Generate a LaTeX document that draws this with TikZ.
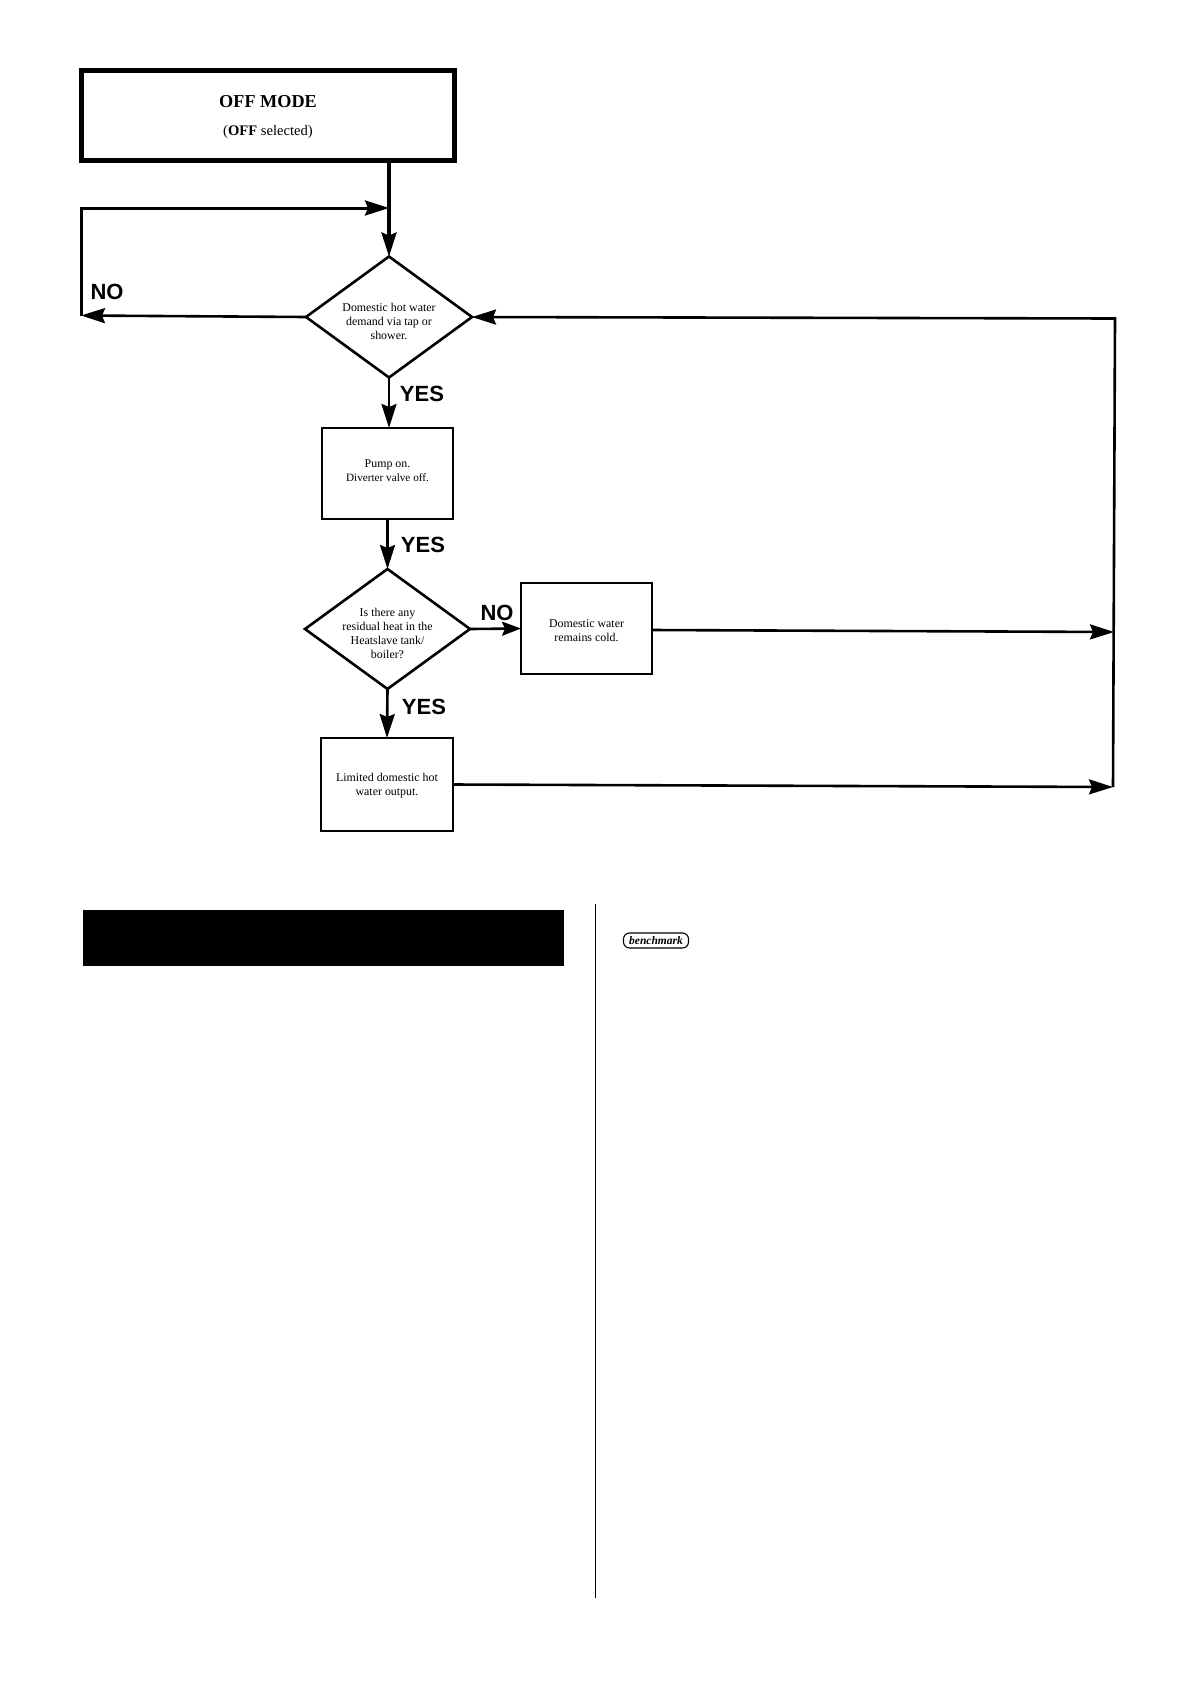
\documentclass[tikz,border=0pt]{standalone}
\usepackage{fontspec}
\setmainfont{Liberation Serif}
\newfontfamily\labelfont{Liberation Sans}
\usetikzlibrary{shapes.geometric,arrows.meta}
\newcommand\bodysize{\fontsize{11.9}{14}\selectfont}
\newcommand\droptext[2]{\raisebox{#1}[0pt][0pt]{\begin{tabular}{@{}c@{}}#2\end{tabular}}}
\tikzset{
  x=1pt,y=-1pt,
  every node/.style={outer sep=0pt,inner sep=0pt},
  box/.style={draw,line width=2.6pt,fill=white,font=\bodysize,align=center},
  decision/.style={draw,diamond,line width=2.6pt,fill=white,font=\bodysize,align=center},
  flow/.style={line width=2.6pt,-{Stealth[length=24pt,width=15pt,inset=3pt]}},
  shortflow/.style={line width=2.6pt,-{Stealth[length=19pt,width=14pt,inset=3pt]}},
  tag/.style={font=\labelfont\bfseries\fontsize{22}{24}\selectfont,anchor=center},
}
\begin{document}
\begin{tikzpicture}
\useasboundingbox (0,0) rectangle (1190,1684);
\fill[white] (0,0) rectangle (1190,1684);

% flowchart nodes
\node[draw,line width=5pt,minimum width=373pt,minimum height=90pt] (off) at (268,115.5) {};
\node[font=\bfseries\fontsize{18.2}{20}\selectfont] (offtitle) at (268,102) {OFF MODE};
\node[font=\fontsize{14.6}{16}\selectfont] (offsub) at (268,131.5) {(\textbf{OFF} selected)};

\node[decision,minimum width=166pt,minimum height=121pt] (d1) at (389,317)
  {\droptext{-8.5pt}{Domestic hot water\\demand via tap or\\shower.}};
\node[box,minimum width=131pt,minimum height=91pt] (b2) at (387.5,473.5)
  {\droptext{-1.5pt}{Pump on.\\\fontsize{11.2}{14}\selectfont Diverter valve off.}};
\node[decision,minimum width=165pt,minimum height=120pt] (d2) at (387.5,629)
  {\droptext{-9pt}{Is there any\\residual heat in the\\Heatslave tank/\\boiler?}};
\node[box,minimum width=131pt,minimum height=91pt] (b3) at (586.5,628.5)
  {\droptext{-6pt}{Domestic water\\remains cold.}};
\node[box,minimum width=132pt,minimum height=93pt] (b4) at (387,784.5)
  {\droptext{-4pt}{Limited domestic hot\\water output.}};

% free ends of the connectors
\coordinate (join) at (389,208);
\coordinate (loopb) at (81,315.5);
\coordinate (loopt) at (81,208);
\coordinate (rtop) at (1115,318.5);
\coordinate (rmid) at (1114,632);
\coordinate (rbot) at (1113,787);

% connectors
\draw[flow,line width=3.2pt] (off.south -| d1.north) -- (d1.north);
\draw[flow] (d1.west) -- (loopb);
\draw[flow,line width=3pt] (loopb) -- (loopt) -- (join);
\draw[flow] (d1.south) -- (d1.south |- b2.north);
\draw[flow] (b2.south) -- (d2.north);
\draw[shortflow] (d2.east) -- (b3.west);
\draw[flow] (d2.south) -- (b4.north);
\draw[flow] ([yshift=-1.5pt]b3.east) -- (rmid);
\draw[flow] (b4.east) -- (rbot);
\draw[flow] (rbot) -- (rtop) -- (d1.east);

% branch labels
\node[tag] (no1) at (107,292) {NO};
\node[tag] (yes1) at (422,394) {YES};
\node[tag] (yes2) at (423,545) {YES};
\node[tag] (no2) at (497,613) {NO};
\node[tag] (yes3) at (424,707) {YES};

% lower part of the page
\fill[black] (83,910) rectangle (564,966);
\draw[line width=0.9pt] (595.3,904) -- (595.3,1598);
\node[draw,line width=1.1pt,rounded corners=6pt,minimum width=65pt,minimum height=15pt,
      font=\bfseries\itshape\fontsize{11.5}{12}\selectfont] (logo) at (656,940.5) {benchmark};
\end{tikzpicture}
\end{document}
